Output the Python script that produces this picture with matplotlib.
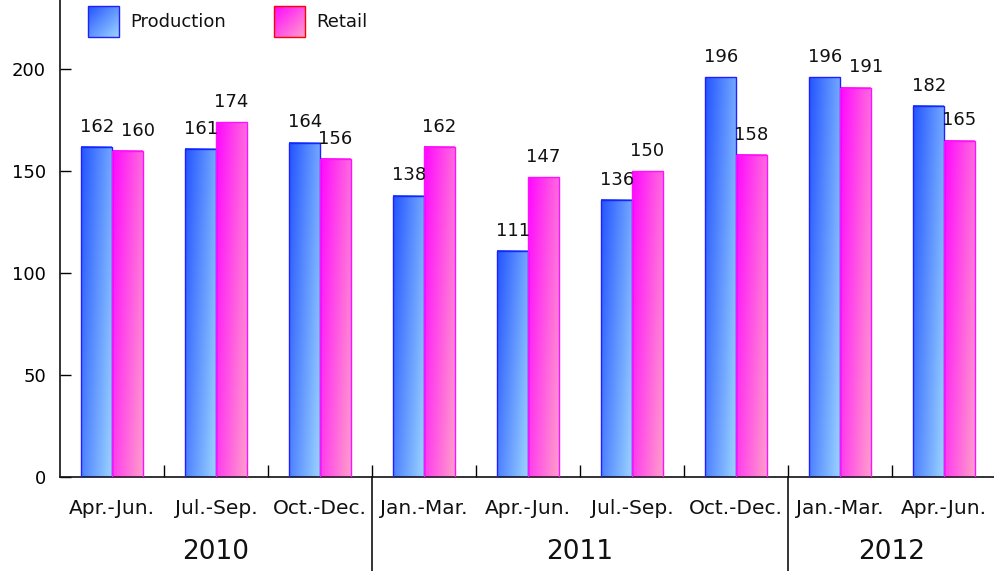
import numpy as np
import matplotlib
matplotlib.use("Agg")
import matplotlib.pyplot as plt
from matplotlib.colors import LinearSegmentedColormap
from matplotlib.patches import Rectangle
import matplotlib.transforms as mtransforms

categories = ["Apr.-Jun.", "Jul.-Sep.", "Oct.-Dec.", "Jan.-Mar.", "Apr.-Jun.",
              "Jul.-Sep.", "Oct.-Dec.", "Jan.-Mar.", "Apr.-Jun."]
years = ["2010", "2011", "2012"]
year_spans = [(0, 2), (3, 6), (7, 8)]
production = [162, 161, 164, 138, 111, 136, 196, 196, 182]
retail = [160, 174, 156, 162, 147, 150, 158, 191, 165]
yticks = [0, 50, 100, 150, 200]

plt.rcParams['font.family'] = ['DejaVu Sans']

fig = plt.figure(figsize=(9.94, 5.71), dpi=100)
W, H = 994, 571
ax = fig.add_axes([60 / W, (H - 477) / H, 936 / W, 477 / H])

prod_cmap = LinearSegmentedColormap.from_list("p", ["#2455ff", "#9ad2ff"])
ret_cmap = LinearSegmentedColormap.from_list("r", ["#ff08ff", "#ff9ccc"])

n = 32
gx, gy = np.meshgrid(np.linspace(0, 1, n), np.linspace(0, 1, n))
grad = 0.65 * gx + 0.35 * gy

bw = 0.295
x = np.arange(len(categories))
for i in range(len(categories)):
    close = abs(production[i] - retail[i]) < 8
    for val, off, cmap, ec, nudge in [
            (production[i], -bw / 2, prod_cmap, "#2020ff", 0.0),
            (retail[i], bw / 2, ret_cmap, "#ff10ff", 0.1 if close else 0.0)]:
        x0 = x[i] + off - bw / 2
        x1 = x0 + bw
        ax.imshow(grad, cmap=cmap, extent=[x0, x1, 0, val], aspect='auto',
                  interpolation='bilinear', origin='upper', zorder=2)
        ax.add_patch(Rectangle((x0, 0), bw, val, fill=False, edgecolor=ec,
                               linewidth=1.0, zorder=3))
        ax.text(x[i] + off + nudge, val + 5.5, str(val), ha='center', va='bottom',
                fontsize=13, color='#111111', zorder=4)

ax.set_xlim(-0.5, len(categories) - 0.5)
ax.set_ylim(0, 234)
ax.set_yticks(yticks)
ax.set_yticklabels([str(v) for v in yticks], fontsize=13)
ax.tick_params(axis='y', direction='in', length=8, width=1, pad=10)
ax.set_xticks(np.arange(0.5, len(categories) - 0.5, 1.0))
ax.set_xticklabels([])
ax.tick_params(axis='x', direction='in', length=9, width=1)
ax.spines['top'].set_visible(False)
ax.spines['right'].set_visible(False)
for s in ['left', 'bottom']:
    ax.spines[s].set_linewidth(1.2)
    ax.spines[s].set_color('#111111')

trans = mtransforms.blended_transform_factory(ax.transData, ax.transAxes)
for i, c in enumerate(categories):
    ax.text(x[i], -0.065, c, transform=trans, ha='center', va='center',
            fontsize=14.5, color='#111111')
for yr, (a, b) in zip(years, year_spans):
    ax.text((a + b) / 2, -0.158, yr, transform=trans, ha='center', va='center',
            fontsize=19, color='#111111')
for sep in [2.5, 6.5]:
    ax.plot([sep, sep], [0, -0.2], transform=trans, color='#111111',
            linewidth=1.2, clip_on=False)

# legend in figure pixel coordinates
lax = fig.add_axes([0, 0, 1, 1], facecolor='none')
lax.set_xlim(0, W)
lax.set_ylim(H, 0)
lax.axis('off')
for (px, label, cmap, ec) in [(88, "Production", prod_cmap, "#2020ff"),
                              (274, "Retail", ret_cmap, "#ff0000")]:
    lax.imshow(0.5 * gx + 0.5 * gy, cmap=cmap, extent=[px, px + 31, 37, 6],
               aspect='auto', interpolation='bilinear', origin='upper')
    lax.add_patch(Rectangle((px, 6), 31, 31, fill=False, edgecolor=ec, linewidth=1.0))
    lax.text(px + 42, 22, label, ha='left', va='center', fontsize=13, color='#111111')
lax.set_xlim(0, W)
lax.set_ylim(H, 0)

fig.savefig("out.png", dpi=100)
